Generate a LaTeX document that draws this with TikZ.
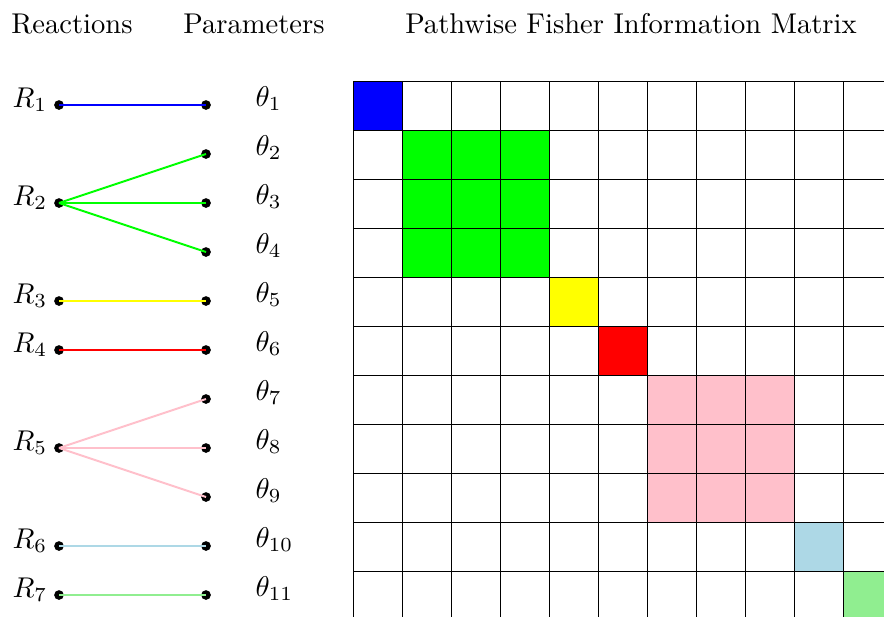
\documentclass[tikz,border=0pt]{standalone}
\definecolor{lblue}{RGB}{173,216,230}
\definecolor{lgreen}{RGB}{144,238,144}
\definecolor{pinkc}{RGB}{255,192,203}
\definecolor{greenc}{RGB}{0,255,0}
\definecolor{yellowc}{RGB}{255,255,0}
\begin{document}
\begin{tikzpicture}[x=0.35pt,y=-0.35pt,
 dot/.style={circle,fill=black,inner sep=0pt,minimum size=3.4pt},
 lbl/.style={anchor=base west,inner sep=0pt},
 ttl/.style={anchor=base,inner sep=0pt},
 link/.style={line width=0.7pt},
 gridline/.style={draw=black,line width=0.3pt}]
\useasboundingbox (0,0) rectangle (884,616);
% titles
\node[ttl] (t1) at (72,33) {Reactions};
\node[ttl] (t2) at (254,33) {Parameters};
\node[ttl] (t3) at (631,33) {Pathwise Fisher Information Matrix};
% parameter dots and labels
\foreach \k in {1,...,11} {
  \node[dot] (p\k) at (206,{105+49*(\k-1)}) {};
  \node[lbl] (pl\k) at (255,{106+49*(\k-1)}) {$\theta_{\k}$};
}
% reaction dots and labels
\foreach \k/\y in {1/105,2/203,3/301,4/350,5/448,6/546,7/595} {
  \node[dot] (r\k) at (59,\y) {};
  \node[lbl] (rl\k) at (12,\y+2) {$R_{\k}$};
}
% connectors
\draw[link,blue] (r1.center) -- (p1.center);
\foreach \k in {2,3,4} \draw[link,greenc] (r2.center) -- (p\k.center);
\draw[link,yellowc] (r3.center) -- (p5.center);
\draw[link,red] (r4.center) -- (p6.center);
\foreach \k in {7,8,9} \draw[link,pinkc] (r5.center) -- (p\k.center);
\draw[link,lblue] (r6.center) -- (p10.center);
\draw[link,lgreen] (r7.center) -- (p11.center);
% matrix
\begin{scope}
\clip (0,0) rectangle (884,616);
\fill[blue] (353,81) rectangle ++(49,49);
\fill[greenc] (402,130) rectangle ++(147,147);
\fill[yellowc] (549,277) rectangle ++(49,49);
\fill[red] (598,326) rectangle ++(49,49);
\fill[pinkc] (647,375) rectangle ++(147,147);
\fill[lblue] (794,522) rectangle ++(49,49);
\fill[lgreen] (843,571) rectangle ++(49,49);
\foreach \i in {0,...,11} {
  \draw[gridline] (353,{81+49*\i}) -- (892,{81+49*\i});
  \draw[gridline] ({353+49*\i},81) -- ({353+49*\i},620);
}
\end{scope}
\end{tikzpicture}
\end{document}
